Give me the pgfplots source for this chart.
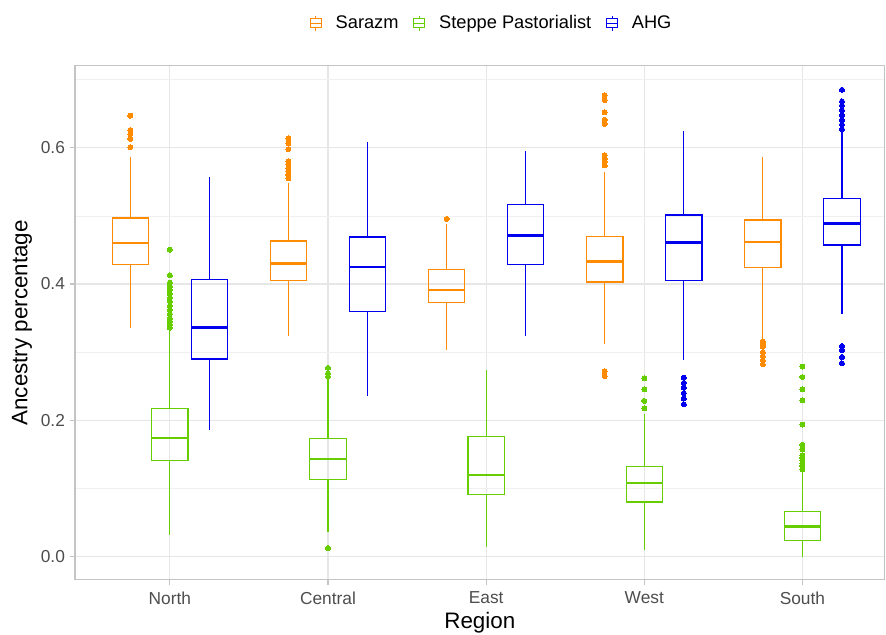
\documentclass[border=0pt]{standalone}
\usepackage{pgfplots}
\pgfplotsset{compat=1.18}
\usepgfplotslibrary{statistics}
\usepackage{fontspec}
\setmainfont{Liberation Sans}

\definecolor{orcol}{HTML}{FF8C00}
\definecolor{grcol}{HTML}{66CD00}
\definecolor{blcol}{HTML}{0000EE}
\definecolor{gridcol}{HTML}{E6E6E6}
\definecolor{framecol}{HTML}{C4C4C4}
\definecolor{ticktext}{HTML}{4D4D4D}

\pgfplotsset{
  bx/.style={
    draw=#1, line width=0.8pt, mark=*, mark size=1.9pt,
    mark options={draw=#1, fill=#1, line width=0pt},
  },
  lgbox/.style={legend image code/.code={%
    \draw[#1, line width=0.8pt] (0pt,-3.4pt) rectangle (8.25pt,3.4pt);
    \draw[#1, line width=0.8pt] (0pt,0pt) -- (8.25pt,0pt);
    \draw[#1, line width=0.8pt] (4.125pt,3.4pt) -- (4.125pt,5.6pt);
    \draw[#1, line width=0.8pt] (4.125pt,-3.4pt) -- (4.125pt,-5.6pt);
    \path[draw=none, fill=none] (0pt,0pt) rectangle (17pt,0.1pt);
  }},
}

\begin{document}
\begin{tikzpicture}
\begin{axis}[
  name=ax,
  scale only axis,
  width=607.5pt, height=385.5pt,
  xmin=0.4, xmax=5.52,
  ymin=-0.034, ymax=0.72,
  xtick={1,2,3,4,5},
  xticklabels={North,Central,East,West,South},
  ytick={0,0.2,0.4,0.6},
  minor ytick={0.1,0.3,0.5,0.7},
  yticklabel style={/pgf/number format/.cd, fixed, fixed zerofill, precision=1, assume math mode=true},
  ticklabel style={font=\fontsize{13}{15}\selectfont, text=ticktext},
  xticklabel style={yshift=-1.5pt},
  xtick pos=bottom, ytick pos=left,
  tick align=outside,
  major tick length=4pt, minor tick length=0pt,
  tick style={color=framecol, line width=0.8pt},
  grid=both,
  major grid style={color=gridcol, line width=0.9pt},
  minor grid style={color=gridcol!60, line width=0.5pt},
  axis line style={color=framecol, line width=0.8pt},
  xlabel={Region},
  ylabel={Ancestry percentage},
  label style={font=\fontsize{16.8}{19}\selectfont},
  xlabel style={at={(axis description cs:0.5,-0.0837)}, anchor=center},
  ylabel style={at={(axis description cs:-0.0654,0.5)}, anchor=center},
  legend columns=3,
  legend style={at={(axis description cs:0.515,1)}, anchor=center, yshift=32pt,
    draw=none, fill=none, font=\fontsize{13.7}{16}\selectfont,
    /tikz/every even column/.append style={column sep=9pt}},
  boxplot/draw direction=y,
  boxplot/every median/.style={line width=1.8pt},
  boxplot/every box/.style={line width=0.9pt},
]
\addlegendimage{lgbox=orcol}\addlegendentry{Sarazm}
\addlegendimage{lgbox=grcol}\addlegendentry{Steppe Pastorialist}
\addlegendimage{lgbox=blcol}\addlegendentry{AHG}

% North
\addplot[bx=orcol, boxplot prepared={draw position=0.75, lower whisker=0.335, lower quartile=0.4286, median=0.460, upper quartile=0.497, upper whisker=0.586, box extend=0.23, whisker extend=0}]
  coordinates {(0,0.647) (0,0.626) (0,0.620) (0,0.613) (0,0.601)};
\addplot[bx=grcol, boxplot prepared={draw position=1, lower whisker=0.032, lower quartile=0.1406, median=0.1738, upper quartile=0.217, upper whisker=0.333, box extend=0.23, whisker extend=0}]
  coordinates {(0,0.4505) (0,0.413) (0,0.402) (0,0.397) (0,0.392) (0,0.386) (0,0.380) (0,0.375) (0,0.368) (0,0.362) (0,0.356) (0,0.350) (0,0.345) (0,0.340) (0,0.336)};
\addplot[bx=blcol, boxplot prepared={draw position=1.25, lower whisker=0.1855, lower quartile=0.290, median=0.336, upper quartile=0.407, upper whisker=0.557, box extend=0.23, whisker extend=0}]
  coordinates {};

% Central
\addplot[bx=orcol, boxplot prepared={draw position=1.75, lower whisker=0.3236, lower quartile=0.405, median=0.430, upper quartile=0.463, upper whisker=0.548, box extend=0.23, whisker extend=0}]
  coordinates {(0,0.614) (0,0.606) (0,0.598) (0,0.580) (0,0.575) (0,0.570) (0,0.565) (0,0.560) (0,0.555)};
\addplot[bx=grcol, boxplot prepared={draw position=2, lower whisker=0.0366, lower quartile=0.1133, median=0.143, upper quartile=0.1733, upper whisker=0.260, box extend=0.23, whisker extend=0}]
  coordinates {(0,0.277) (0,0.269) (0,0.264) (0,0.0127)};
\addplot[bx=blcol, boxplot prepared={draw position=2.25, lower whisker=0.2357, lower quartile=0.360, median=0.425, upper quartile=0.469, upper whisker=0.609, box extend=0.23, whisker extend=0}]
  coordinates {};

% East
\addplot[bx=orcol, boxplot prepared={draw position=2.75, lower whisker=0.303, lower quartile=0.3725, median=0.3915, upper quartile=0.4217, upper whisker=0.488, box extend=0.23, whisker extend=0}]
  coordinates {(0,0.4955)};
\addplot[bx=grcol, boxplot prepared={draw position=3, lower whisker=0.0147, lower quartile=0.0913, median=0.120, upper quartile=0.1763, upper whisker=0.2738, box extend=0.23, whisker extend=0}]
  coordinates {};
\addplot[bx=blcol, boxplot prepared={draw position=3.25, lower whisker=0.3236, lower quartile=0.429, median=0.471, upper quartile=0.517, upper whisker=0.5945, box extend=0.23, whisker extend=0}]
  coordinates {};

% West
\addplot[bx=orcol, boxplot prepared={draw position=3.75, lower whisker=0.3114, lower quartile=0.403, median=0.433, upper quartile=0.4695, upper whisker=0.564, box extend=0.23, whisker extend=0}]
  coordinates {(0,0.677) (0,0.670) (0,0.652) (0,0.641) (0,0.635) (0,0.589) (0,0.584) (0,0.580) (0,0.574) (0,0.272) (0,0.265)};
\addplot[bx=grcol, boxplot prepared={draw position=4, lower whisker=0.0103, lower quartile=0.080, median=0.108, upper quartile=0.1318, upper whisker=0.209, box extend=0.23, whisker extend=0}]
  coordinates {(0,0.2616) (0,0.2455) (0,0.2284) (0,0.2177)};
\addplot[bx=blcol, boxplot prepared={draw position=4.25, lower whisker=0.288, lower quartile=0.405, median=0.4607, upper quartile=0.5013, upper whisker=0.6248, box extend=0.23, whisker extend=0}]
  coordinates {(0,0.2627) (0,0.255) (0,0.248) (0,0.240) (0,0.232) (0,0.2236)};

% South
\addplot[bx=orcol, boxplot prepared={draw position=4.75, lower whisker=0.3187, lower quartile=0.4237, median=0.4617, upper quartile=0.494, upper whisker=0.586, box extend=0.23, whisker extend=0}]
  coordinates {(0,0.316) (0,0.312) (0,0.308) (0,0.300) (0,0.294) (0,0.288) (0,0.282)};
\addplot[bx=grcol, boxplot prepared={draw position=5, lower whisker=0.0, lower quartile=0.0234, median=0.044, upper quartile=0.066, upper whisker=0.126, box extend=0.23, whisker extend=0}]
  coordinates {(0,0.2788) (0,0.2636) (0,0.2455) (0,0.2294) (0,0.1938) (0,0.164) (0,0.157) (0,0.148) (0,0.145) (0,0.141) (0,0.137) (0,0.133) (0,0.128)};
\addplot[bx=blcol, boxplot prepared={draw position=5.25, lower whisker=0.3563, lower quartile=0.4574, median=0.4886, upper quartile=0.5256, upper whisker=0.624, box extend=0.23, whisker extend=0}]
  coordinates {(0,0.685) (0,0.668) (0,0.662) (0,0.655) (0,0.648) (0,0.641) (0,0.634) (0,0.627) (0,0.309) (0,0.303) (0,0.293) (0,0.2836)};
\end{axis}
\pgfresetboundingbox
\path[use as bounding box] ([xshift=-56.25pt, yshift=-41.25pt]ax.south west) rectangle ([xshift=1pt, yshift=49.5pt]ax.north east);
\end{tikzpicture}
\end{document}
